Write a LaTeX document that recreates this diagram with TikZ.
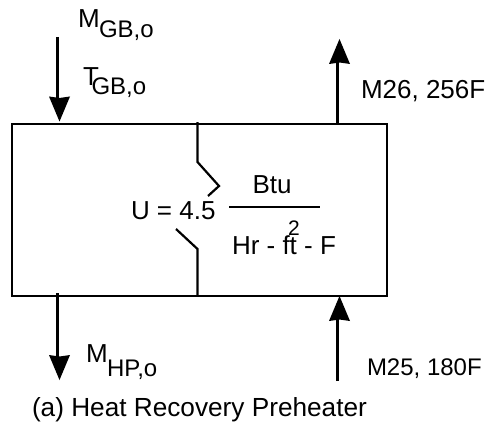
\documentclass[tikz,border=0pt]{standalone}
\usepackage{fontspec}
\setmainfont{Liberation Sans}
\tikzset{
  x=1pt,y=-1pt,
  ln/.style={draw=black,line width=2.2pt},
  lbl/.style={anchor=base west,inner sep=0pt,outer sep=0pt,font=\fontsize{24}{26}\selectfont,text=black},
  big/.style={lbl,font=\fontsize{26}{28}\selectfont},
}
\newcommand{\headdown}[2]{\fill[black] (#1,#2) -- ++(-10.5,-25) -- ++(10.5,1.5) -- ++(10.5,-1.5) -- cycle;}
\newcommand{\headup}[2]{\fill[black] (#1,#2) -- ++(-10.5,25) -- ++(10.5,-1.5) -- ++(10.5,1.5) -- cycle;}
\begin{document}
\begin{tikzpicture}
\useasboundingbox (0,0) rectangle (493,428);
\fill[white] (0,0) rectangle (493,428);
\node[ln,minimum width=375pt,minimum height=172pt,inner sep=0pt,anchor=north west] (box) at (11,123) {};
% flows
\coordinate (a1) at (57.5,37); \coordinate (a2) at (57.5,100);
\coordinate (b1) at (337.5,123); \coordinate (b2) at (337.5,60);
\coordinate (c1) at (57.5,293); \coordinate (c2) at (57.5,360);
\coordinate (d1) at (337.5,381); \coordinate (d2) at (337.5,318);
\draw[ln] (a1) -- (a2); \headdown{59.5}{121.5}
\draw[ln] (b1) -- (b2); \headup{339.5}{39}
\draw[ln] (c1) -- (c2); \headdown{59.5}{380}
\draw[ln] (d1) -- (d2); \headup{339.5}{296}
% divider
\coordinate (u0) at (197.5,122); \coordinate (u1) at (197.5,162); \coordinate (u2) at (219,186); \coordinate (u3) at (208,196);
\coordinate (l0) at (197.5,295); \coordinate (l1) at (197.5,249); \coordinate (l2) at (176,229);
\draw[ln] (u0) -- (u1) -- (u2) -- (u3);
\draw[ln] (l0) -- (l1) -- (l2);
% fraction
\coordinate (f1) at (229,207); \coordinate (f2) at (320,207);
\draw[ln] (f1) -- (f2);
% labels
\node[big] (t1) at (78,28) {M};
\node[lbl] (t2) at (99,38) {GB,o};
\node[big] (t3) at (83,86) {T};
\node[lbl] (t4) at (91.5,95) {GB,o};
\node[big] (t5) at (361,99) {M26, 256F};
\node[big] (t6) at (131,219) {U = 4.5};
\node[big] (t7) at (252.5,193) {Btu};
\node[big] (t8) at (232,254) {Hr - ft - F};
\node[lbl,font=\fontsize{21}{23}\selectfont] (t9) at (288,235) {2};
\node[big] (t10) at (86,362) {M};
\node[lbl] (t11) at (107,376) {HP,o};
\node[lbl] (t12) at (367,375) {M25, 180F};
\node[lbl,font=\fontsize{26.2}{28}\selectfont] (t13) at (32,416) {(a) Heat Recovery Preheater};
\end{tikzpicture}
\end{document}
